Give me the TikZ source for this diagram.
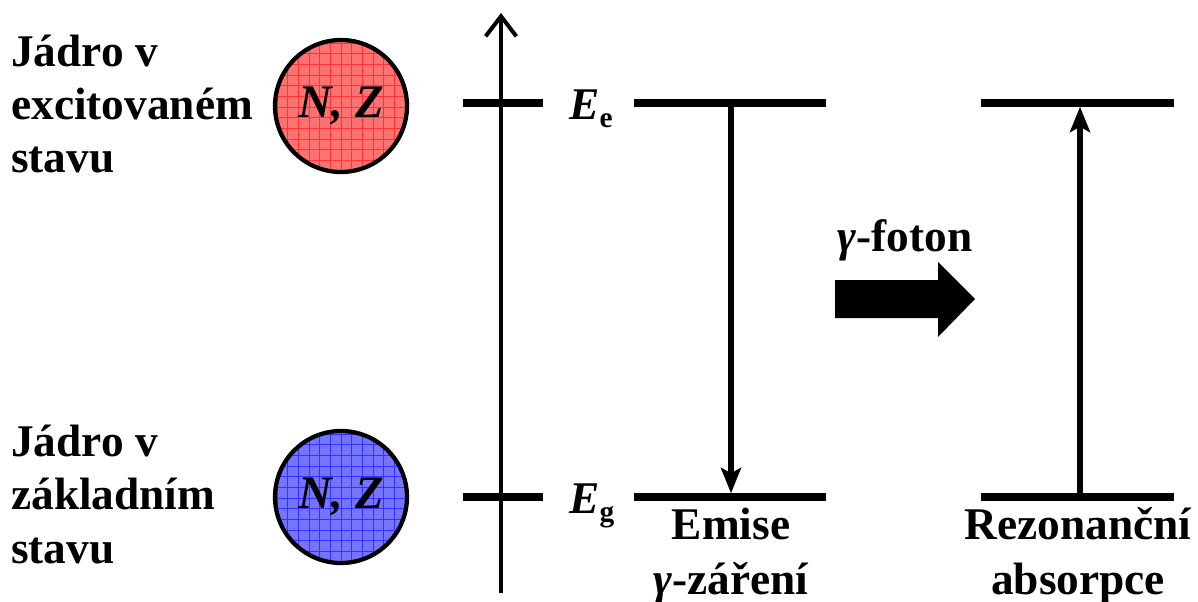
\documentclass[tikz,border=0pt]{standalone}
\usepackage{fontspec}
\setmainfont{Liberation Serif}
\usetikzlibrary{arrows.meta, positioning, calc}
\definecolor{nucred}{HTML}{FF7272}
\definecolor{nucblue}{HTML}{7474FF}
\newcommand{\lvsub}[1]{{\fontsize{22}{22}\selectfont\raisebox{-6pt}{#1}}}

\begin{document}
\begin{tikzpicture}[x=0.75pt, y=-0.75pt,
    txt/.style={font=\fontsize{34}{40}\selectfont\bfseries, inner sep=0pt},
    nucleus/.style={circle, draw, line width=3.2pt, minimum size=99pt, inner sep=0pt,
      font=\fontsize{35}{35}\selectfont\bfseries\itshape},
    mesh/.style={path picture={\draw[#1, line width=0.4pt, step=8pt]
      (path picture bounding box.south west) grid (path picture bounding box.north east);}},
    enline/.style={line width=6pt},
    trans/.style={line width=4pt, shorten >=2.8pt,
      -{Stealth[length=19pt, width=15pt, inset=4pt]}},
  ]
  \useasboundingbox (0,0) rectangle (1198,602);

  % nuclei
  \node[txt, align=left, anchor=base west] (lblExc) at (11,173) {Jádro v\\excitovaném\\stavu};
  \node[txt, align=left, anchor=base west] (lblGnd) at (11,563) {Jádro v\\základním\\stavu};
  \node[nucleus, fill=nucred, mesh=red!80] (nucE) at (341,106) {N, Z};
  \node[nucleus, fill=nucblue, mesh=blue!80] (nucG) at (341,497) {N, Z};

  % energy axis
  \coordinate (axB) at (501,593);
  \coordinate (axT) at (501,13);
  \draw[line width=3pt, -{Straight Barb[length=15pt, width=23pt]}] (axB) -- (axT);
  \draw[enline] (463,103) -- (543,103);
  \draw[enline] (463,497) -- (543,497);
  \node[txt, anchor=base west] (lblEe) at (569,120) {\textit{E}\lvsub{e}};
  \node[txt, anchor=base west] (lblEg) at (569,513) {\textit{E}\lvsub{g}};

  % emission
  \coordinate (eTop) at (731,103);
  \coordinate (eBot) at (731,497);
  \draw[enline] (634,103) -- (826,103);
  \draw[enline] (634,497) -- (826,497);
  \draw[trans] (eTop) -- (eBot);
  \node[txt, align=center, anchor=base, font=\fontsize{34}{41}\selectfont\bfseries]
    (lblEmis) at (731,594) {Emise\\\textit{γ}-záření};

  % photon
  \node[txt, anchor=base] (lblPhot) at (905,252) {\textit{γ}-foton};
  \fill (835,280) -- (938,280) -- (938,262) -- (975,299) -- (938,337) -- (938,318)
    -- (835,318) -- cycle;

  % absorption
  \coordinate (aBot) at (1080,497);
  \coordinate (aTop) at (1080,103);
  \draw[enline] (981,103) -- (1174,103);
  \draw[enline] (981,497) -- (1174,497);
  \draw[trans] (aBot) -- (aTop);
  \node[txt, align=center, anchor=base, font=\fontsize{34}{41}\selectfont\bfseries]
    (lblAbs) at (1078,594) {Rezonanční\\absorpce};
\end{tikzpicture}
\end{document}
